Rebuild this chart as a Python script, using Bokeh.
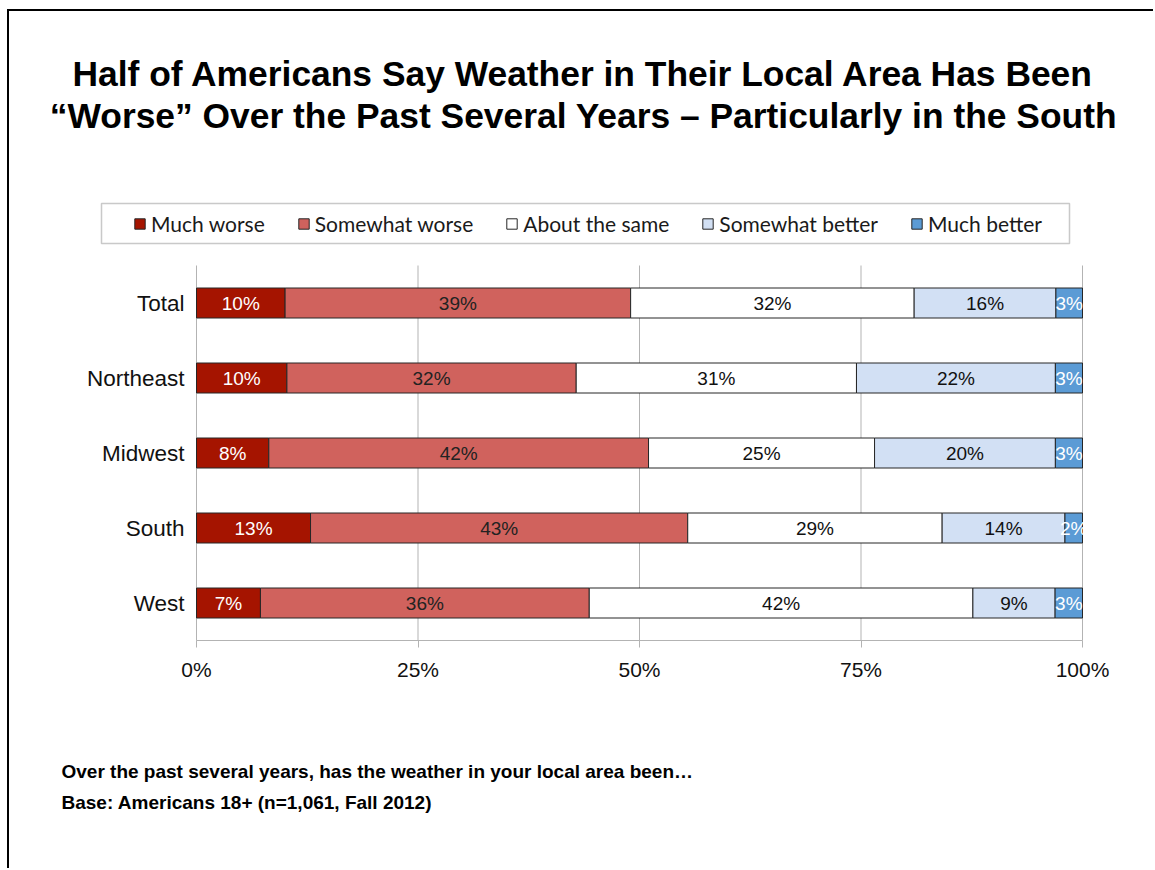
from bokeh.plotting import figure
from bokeh.models import (ColumnDataSource, Range1d, FixedTicker, Label,
                          BoxAnnotation, Legend, LegendItem)
from bokeh.core.properties import value
from bokeh.embed import file_html
from bokeh.resources import INLINE

# ---------------- data ----------------
regions = ["Total", "Northeast", "Midwest", "South", "West"]
series_names = ["Much worse", "Somewhat worse", "About the same",
                "Somewhat better", "Much better"]
much_worse = [10, 10, 8, 13, 7]
somewhat_worse = [39, 32, 42, 43, 36]
about_same = [32, 31, 25, 29, 42]
somewhat_better = [16, 22, 20, 14, 9]
much_better = [3, 3, 3, 2, 3]
x_ticks = [0, 25, 50, 75, 100]
x_tick_labels = ["0%", "25%", "50%", "75%", "100%"]

title_lines = ["Half of Americans Say Weather in Their Local Area Has Been",
               "\u201cWorse\u201d Over the Past Several Years \u2013 Particularly in the South"]
footnotes = ["Over the past several years, has the weather in your local area been\u2026",
             "Base: Americans 18+ (n=1,061, Fall 2012)"]

# ---------------- style / layout ----------------
colors = ["#a51400", "#d0625d", "#ffffff", "#d2e0f4", "#5b9bd5"]
label_colors = ["#ffffff", "#222222", "#111111", "#111111", "#ffffff"]
FONT = "Liberation Sans"

OX, OY = 9, 11                  # canvas origin on the page (after css margin+border)
W, H = 1146, 859
PX0, PX100 = 196 - OX, 1082 - OX   # canvas x of 0% and 100%
PY_TOP, PY_BOT = 265 - OY, 640 - OY  # canvas y of the bar area top / bottom

n = len(regions)
ypos = [n - 1 - i for i in range(n)]          # Total on top
xs = (PX100 - PX0) / 100.0                   # px per percent
ys = (PY_BOT - PY_TOP) / float(n)            # px per category


def dx(cx):      # canvas px -> x data
    return (cx - PX0) / xs


def dy(cy):      # canvas px -> y data
    return (n - 0.5) - (cy - PY_TOP) / ys


series = [much_worse, somewhat_worse, about_same, somewhat_better, much_better]
totals = [sum(v) for v in zip(*series)]
keys = ["s%d" % i for i in range(len(series))]
data = {"y": ypos}
for k, vals in zip(keys, series):
    data[k] = [100.0 * v / t for v, t in zip(vals, totals)]
source = ColumnDataSource(data)

p = figure(width=W, height=H, output_backend="svg", toolbar_location=None,
           x_range=Range1d(dx(0), dx(W)), y_range=Range1d(dy(H), dy(0)),
           min_border_left=0, min_border_right=0, min_border_top=0,
           min_border_bottom=0)
p.outline_line_color = None
p.background_fill_color = "white"
p.border_fill_color = "white"
p.styles = {"margin-left": "7px", "margin-top": "9px",
            "border-left": "2px solid black", "border-top": "2px solid black"}

# vertical grid lines over the bar area only
p.segment(x0=x_ticks, x1=x_ticks, y0=[-0.5] * len(x_ticks),
          y1=[n - 0.5] * len(x_ticks), line_color="#b3b3b3", line_width=1)
p.xgrid.grid_line_color = None
p.ygrid.grid_line_color = None

renderers = p.hbar_stack(keys, y="y", height=0.4, source=source,
                         fill_color=colors, line_color="#262626", line_width=1)

# value labels
starts = [0.0] * n
for k, vals, tc in zip(keys, series, label_colors):
    mids = []
    for i, v in enumerate(data[k]):
        mids.append(starts[i] + v / 2.0)
        starts[i] += v
    lsrc = ColumnDataSource(dict(x=mids, y=ypos, t=["%d%%" % v for v in vals]))
    p.text(x="x", y="y", text="t", source=lsrc, text_align="center",
           text_baseline="middle", text_color=tc, text_font=value(FONT),
           text_font_size="19px")

# x axis fixed at the bottom of the bar area
p.xaxis.fixed_location = -0.5
p.xaxis.bounds = (x_ticks[0], x_ticks[-1])
p.xaxis.ticker = FixedTicker(ticks=x_ticks)
p.xaxis.major_label_overrides = dict(zip(x_ticks, x_tick_labels))
p.xaxis.axis_line_color = "#b3b3b3"
p.xaxis.major_tick_line_color = "#b3b3b3"
p.xaxis.major_tick_in = 0
p.xaxis.major_tick_out = 7
p.xaxis.minor_tick_line_color = None
p.xaxis.major_label_text_font = FONT
p.xaxis.major_label_text_font_size = "21px"
p.xaxis.major_label_text_color = "#111111"
p.xaxis.major_label_standoff = 10

# y axis fixed at 0%
p.yaxis.fixed_location = 0
p.yaxis.bounds = (-0.5, n - 0.5)
p.yaxis.ticker = FixedTicker(ticks=ypos)
p.yaxis.major_label_overrides = dict(zip(ypos, regions))
p.yaxis.axis_line_color = None
p.yaxis.major_tick_line_color = None
p.yaxis.major_tick_in = 0
p.yaxis.major_tick_out = 0
p.yaxis.minor_tick_line_color = None
p.yaxis.major_label_text_font = FONT
p.yaxis.major_label_text_font_size = "22.5px"
p.yaxis.major_label_text_color = "#111111"
p.yaxis.major_label_standoff = 12

# legend box + legend
p.add_layout(BoxAnnotation(left=dx(101 - OX), right=dx(1069 - OX),
                           top=dy(203 - OY), bottom=dy(243 - OY),
                           fill_color="white", fill_alpha=1,
                           line_color="#4d4d4d", line_width=1.5))
legend = Legend(items=[LegendItem(label=nm, renderers=[r])
                       for nm, r in zip(series_names, renderers)],
                orientation="horizontal",
                location=(133 - OX, H - (236 - OY)),
                border_line_color=None, background_fill_alpha=0,
                padding=0, margin=0, spacing=32, label_standoff=5,
                glyph_width=13, glyph_height=13,
                label_text_font="Lato", label_text_font_size="21px",
                label_text_color="#1a1a1a")
p.add_layout(legend, "center")

# title (baselines at page y 84 / 126, empirical baseline correction)
TS = 35.4
for line, base in zip(title_lines, [84, 126]):
    p.add_layout(Label(x=dx(583 - OX), y=dy(base - OY - 0.31 * TS), text=line,
                       text_align="center", text_baseline="alphabetic",
                       text_font=FONT, text_font_size="%.1fpx" % TS,
                       text_font_style="bold", text_color="black"))

# footnotes (baselines at page y 777 / 808)
FS = 19
for line, base in zip(footnotes, [777, 808]):
    p.add_layout(Label(x=dx(61 - OX), y=dy(base - OY - 0.31 * FS), text=line,
                       text_align="left", text_baseline="alphabetic",
                       text_font=FONT, text_font_size="%dpx" % FS,
                       text_font_style="bold", text_color="black"))

open("out.html", "w").write(file_html(p, INLINE))
